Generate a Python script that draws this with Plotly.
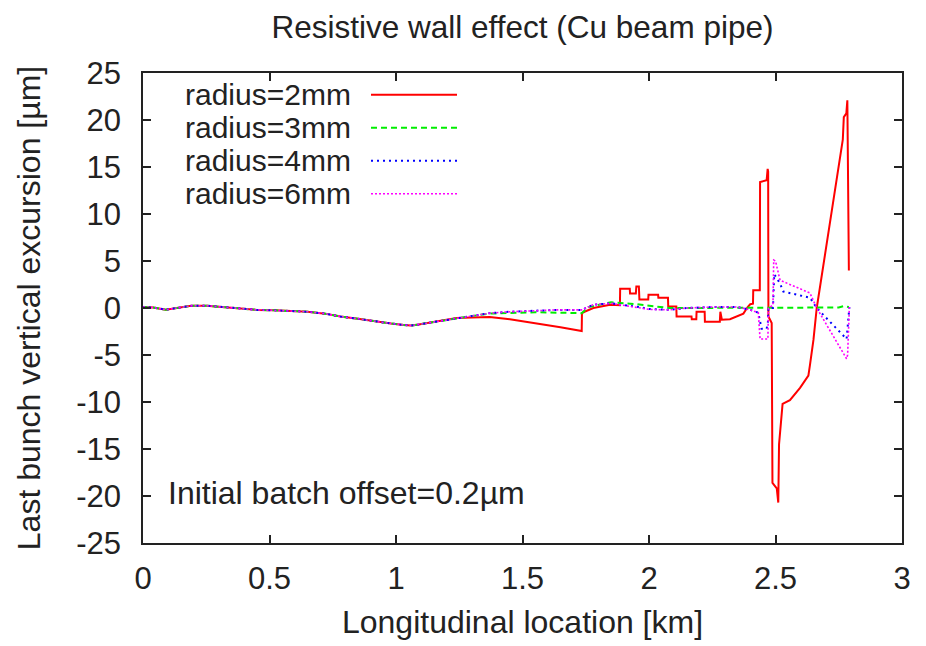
import plotly.graph_objects as go

# ---------------- data ----------------
x_shared = [0.0, 0.04, 0.09, 0.14, 0.19, 0.25, 0.32, 0.38, 0.45, 0.52, 0.60, 0.65,
            0.72, 0.78, 0.85, 0.91, 0.98, 1.03, 1.06, 1.09, 1.13, 1.18, 1.24]
y_shared = [0.1, 0.05, -0.18, 0.05, 0.23, 0.25, 0.1, -0.1, -0.2, -0.25, -0.3, -0.4,
            -0.6, -0.9, -1.15, -1.4, -1.65, -1.8, -1.86, -1.75, -1.58, -1.35, -1.06]

x_r2 = [1.30, 1.37, 1.45, 1.55, 1.65, 1.734, 1.735, 1.745, 1.78, 1.846, 1.885, 1.886,
        1.924, 1.925, 1.948, 1.95, 1.96, 1.962, 1.997, 1.998, 2.036, 2.037, 2.075,
        2.076, 2.108, 2.109, 2.168, 2.169, 2.187, 2.188, 2.22, 2.221, 2.28, 2.282,
        2.288, 2.32, 2.35, 2.373, 2.39, 2.40, 2.411, 2.412, 2.438, 2.439, 2.465,
        2.469, 2.471, 2.472, 2.485, 2.488, 2.505, 2.511, 2.514, 2.528, 2.557, 2.597,
        2.63, 2.636, 2.65, 2.663, 2.766, 2.77, 2.78, 2.784, 2.786, 2.79]
y_r2 = [-1.0, -0.95, -1.2, -1.6, -2.05, -2.45, -0.55, -0.4, 0.0, 0.35, 0.3, 2.05,
        2.05, 1.55, 1.55, 2.3, 2.3, 0.9, 0.9, 1.4, 1.4, 1.1, 1.1,
        0.15, 0.15, -0.9, -0.9, -1.2, -1.2, -0.4, -0.4, -1.45, -1.45, -0.4,
        -1.25, -1.2, -0.9, -0.6, 0.1, 0.4, 0.45, 1.9, 1.9, 13.4, 13.6,
        14.8, 14.5, -0.9, -1.6, -18.6, -19.2, -20.7, -14.5, -10.2, -9.8, -8.5,
        -7.2, -6.1, -3.4, 0.0, 17.9, 20.3, 20.7, 22.1, 12.4, 4.0]

x_r3 = [1.30, 1.37, 1.55, 1.734, 1.76, 1.85, 1.95, 2.08, 2.30, 2.50, 2.70, 2.75, 2.77, 2.79]
y_r3 = [-0.85, -0.6, -0.45, -0.55, 0.1, 0.6, 0.4, 0.0, 0.0, 0.0, 0.0, 0.05, 0.2, 0.1]

x_r4 = [1.30, 1.37, 1.45, 1.55, 1.635, 1.734, 1.78, 1.85, 1.90, 1.96, 2.00, 2.08, 2.15,
        2.25, 2.35, 2.40, 2.432, 2.445, 2.465, 2.47, 2.472, 2.49, 2.495, 2.518, 2.531,
        2.636, 2.663, 2.781, 2.792]
y_r4 = [-0.8, -0.55, -0.4, -0.3, -0.2, -0.2, 0.35, 0.5, 0.35, 0.1, -0.1, -0.2, 0.0,
        0.1, 0.1, -0.2, -0.5, -2.2, -2.2, -1.5, 0.0, 0.0, 3.6, 2.6, 1.75,
        1.1, 0.0, -3.3, 0.1]

x_r6 = [1.30, 1.37, 1.45, 1.55, 1.635, 1.734, 1.78, 1.85, 1.90, 1.96, 2.00, 2.08, 2.15,
        2.25, 2.35, 2.40, 2.432, 2.439, 2.47, 2.472, 2.49, 2.493, 2.50, 2.518,
        2.636, 2.663, 2.781, 2.785, 2.792]
y_r6 = [-0.8, -0.55, -0.4, -0.3, -0.2, -0.2, 0.35, 0.5, 0.3, 0.05, -0.15, -0.2, 0.0,
        0.1, 0.1, -0.2, -0.5, -3.3, -3.3, 0.0, 0.3, 5.1, 5.0, 2.95,
        1.6, 0.0, -5.4, -5.0, 0.1]

series_names = ["radius=2mm", "radius=3mm", "radius=4mm", "radius=6mm"]
x_tick_vals = [0, 0.5, 1, 1.5, 2, 2.5, 3]
x_tick_text = ["0", "0.5", "1", "1.5", "2", "2.5", "3"]
y_tick_vals = [-25, -20, -15, -10, -5, 0, 5, 10, 15, 20, 25]
y_tick_text = ["-25", "-20", "-15", "-10", "-5", "0", "5", "10", "15", "20", "25"]

# ---------------- styles ----------------
colors = ["#ff0000", "#00ee00", "#0000ff", "#ff00ff"]
dashes = ["solid", "6px,4px", "2px,4px", "2px,2px"]
widths = [2, 2, 2, 1.6]
FONT = "Liberation Sans, Arial, Helvetica, sans-serif"
TXT = "#222222"

tails = [(x_r2, y_r2), (x_r3, y_r3), (x_r4, y_r4), (x_r6, y_r6)]

fig = go.Figure()
for name, (xt, yt), c, d, w in zip(series_names, tails, colors, dashes, widths):
    fig.add_trace(go.Scatter(
        x=x_shared + xt, y=y_shared + yt, mode="lines", name=name,
        line=dict(color=c, dash=d, width=w), showlegend=False))

# page has an 8px body margin; figure coordinates below are page coords - 8
OFF = 8
W, H = 926 - OFF, 646 - OFF
L, T = 143 - OFF, 73 - OFF
R = W - (902 - OFF)
B = H - (550 - OFF)
pw, ph = W - L - R, H - T - B

def px_x(p):
    return (p - OFF - L) / pw

def px_y(p):
    return (H - B - (p - OFF)) / ph

# gnuplot-like legend: text right-aligned, sample line on the right
rows = [95, 128.5, 162, 195.5]
for name, c, d, w, yy in zip(series_names, colors, dashes, widths, rows):
    fig.add_annotation(x=px_x(353), y=px_y(yy), xref="paper", yref="paper",
                       text=name, showarrow=False, xanchor="right", yanchor="middle",
                       font=dict(family=FONT, size=30, color=TXT))
    fig.add_shape(type="line", xref="paper", yref="paper",
                  x0=px_x(371), x1=px_x(457), y0=px_y(yy), y1=px_y(yy),
                  line=dict(color=c, dash=d, width=w))

fig.add_annotation(x=px_x(166), y=px_y(499), xref="paper", yref="paper",
                   text="Initial batch offset=0.2µm", showarrow=False,
                   xanchor="left", yanchor="middle",
                   font=dict(family=FONT, size=32, color=TXT))

axis_common = dict(showline=True, linecolor=TXT, linewidth=1.5, mirror="ticks",
                   ticks="inside", ticklen=8, tickwidth=1.5, tickcolor=TXT,
                   showgrid=False, zeroline=False,
                   tickfont=dict(family=FONT, size=31, color=TXT))

fig.update_layout(
    width=W, height=H,
    margin=dict(l=L, r=R, t=T, b=B),
    paper_bgcolor="white", plot_bgcolor="white",
    title=dict(text="Resistive wall effect (Cu beam pipe)", x=0.5, xref="paper",
               y=1 - (27 - OFF) / H, yref="container", yanchor="middle", xanchor="center",
               font=dict(family=FONT, size=31.5, color=TXT)),
    xaxis=dict(range=[0, 3], tickvals=x_tick_vals, ticktext=x_tick_text,
               title=dict(text="Longitudinal location [km]", standoff=16,
                          font=dict(family=FONT, size=32, color=TXT)),
               ticklabelstandoff=7, **axis_common),
    yaxis=dict(range=[-25, 25], tickvals=y_tick_vals, ticktext=y_tick_text,
               title=dict(text="Last bunch vertical excursion [µm]", standoff=26,
                          font=dict(family=FONT, size=32, color=TXT)),
               ticklabelstandoff=14, **axis_common),
)

fig.write_html("out.html")
